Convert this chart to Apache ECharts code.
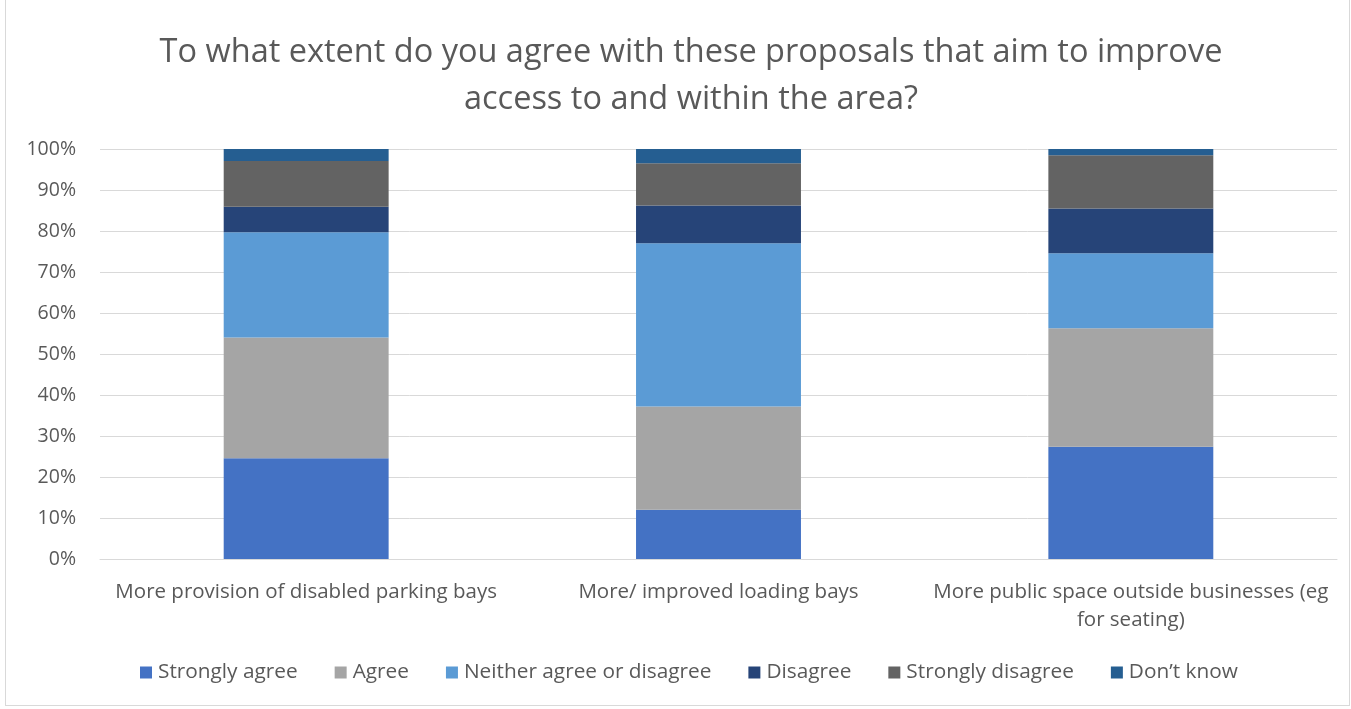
<!DOCTYPE html>
<html><head><meta charset="utf-8">
<script src="https://cdn.jsdelivr.net/npm/echarts@6/dist/echarts.min.js"></script>
<style>
html,body{margin:0;padding:0;background:#fff;}
#frame{position:absolute;left:5px;top:-2px;width:1345px;height:708px;border:1px solid #d9d9d9;box-sizing:border-box;}
#c{position:absolute;left:0;top:0;width:1351px;height:709px;}
</style></head><body>
<div id="frame"></div>
<div id="c"></div>
<script>
const categories = ["More provision of disabled parking bays", "More/ improved loading bays", "More public space outside businesses (eg\nfor seating)"];
const seriesNames = ["Strongly agree", "Agree", "Neither agree or disagree", "Disagree", "Strongly disagree", "Don\u2019t know"];
const stronglyAgree = [24.6, 12.0, 27.4];
const agree = [29.4, 25.2, 28.9];
const neither = [25.7, 39.8, 18.3];
const disagree = [6.2, 9.2, 10.9];
const stronglyDisagree = [11.2, 10.3, 13.0];
const dontKnow = [2.9, 3.5, 1.5];
const colors = ["#4472C4", "#A5A5A5", "#5B9BD5", "#264478", "#636363", "#255E91"];
const yTicks = [0, 10, 20, 30, 40, 50, 60, 70, 80, 90, 100];

const values = [stronglyAgree, agree, neither, disagree, stronglyDisagree, dontKnow];
const font = "'Open Sans', 'Noto Sans', sans-serif";
const chart = echarts.init(document.getElementById('c'));
chart.setOption({
  animation: false,
  title: {
    text: "To what extent do you agree with these proposals that aim to improve\naccess to and within the area?",
    left: 686, top: 24, textAlign: 'center',
    textStyle: {fontFamily: font, fontSize: 32.5, fontWeight: 'normal', color: '#595959', lineHeight: 47}
  },
  legend: {
    data: seriesNames, bottom: 21, left: 135, itemWidth: 12, itemHeight: 12, itemGap: 37,
    icon: 'rect',
    textStyle: {fontFamily: font, fontSize: 20.8, color: '#595959', padding: [0,0,0,1]}
  },
  grid: {left: 100, right: 14, top: 149, bottom: 150},
  xAxis: {
    type: 'category', data: categories,
    axisLine: {lineStyle: {color: '#d9d9d9'}}, axisTick: {show: false},
    axisLabel: {fontFamily: font, fontSize: 20.5, color: '#595959', margin: 19, lineHeight: 28, interval: 0}
  },
  yAxis: {
    type: 'value', min: 0, max: 100, interval: 10,
    axisLabel: {formatter: v => yTicks.includes(v) ? v + '%' : '', fontFamily: font, fontSize: 19.5, color: '#595959', margin: 24},
    splitLine: {lineStyle: {color: '#d9d9d9', width: 1}},
    axisLine: {show: false}, axisTick: {show: false}
  },
  series: seriesNames.map((n, i) => ({
    name: n, type: 'bar', stack: 'total', data: values[i], barWidth: '40%',
    itemStyle: {color: colors[i]}
  }))
});
</script></body></html>
